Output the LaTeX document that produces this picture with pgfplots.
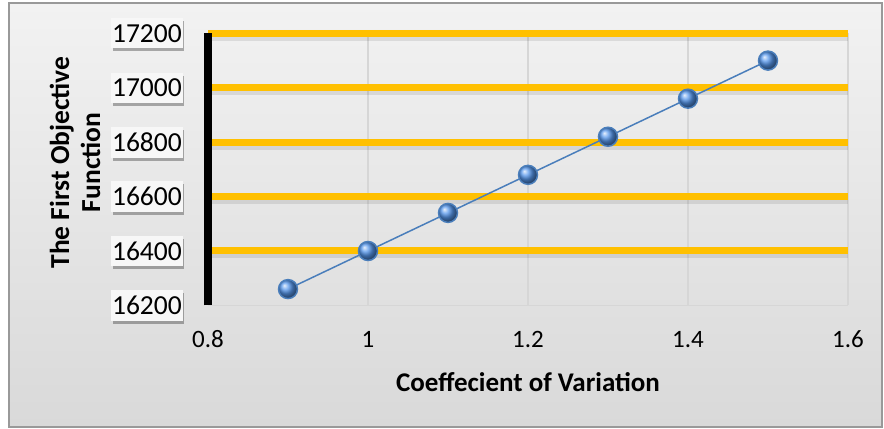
\documentclass[border=0pt]{standalone}
\usepackage{fontspec}
\setmainfont{Carlito}
\usepackage{pgfplots}
\pgfplotsset{compat=1.18}
\usetikzlibrary{shadows}
\definecolor{gold}{HTML}{FFC000}
\definecolor{mblue}{HTML}{4A7EBB}
\definecolor{ballblue}{RGB}{85,150,235}
\definecolor{gridgray}{HTML}{D6D6D6}
\definecolor{bgtop}{HTML}{F2F2F2}
\definecolor{bgbot}{HTML}{D9D9D9}
\begin{document}
\begin{tikzpicture}
\useasboundingbox (0,0) rectangle (884bp,429bp);
\shade[top color=bgtop, bottom color=bgbot] (9bp,2bp) rectangle (882bp,426bp);
\draw[color=gray!80, line width=1.2bp] (9bp,2bp) rectangle (882bp,426bp);
\begin{axis}[
  at={(208bp,123.6bp)}, anchor=south west,
  scale only axis, width=640bp, height=272bp,
  xmin=0.8, xmax=1.6, ymin=16200, ymax=17200,
  xtick={0.8,1.0,1.2,1.4,1.6},
  ytick={16400,16600,16800,17000,17200},
  extra y ticks={16200}, extra y tick style={grid=none},
  scaled y ticks=false, scaled x ticks=false,
  xmajorgrids, ymajorgrids,
  x grid style={gridgray, line width=1.5bp},
  y grid style={gold, line width=7bp,
    preaction={draw=black, opacity=0.09, line width=7bp, transform canvas={yshift=-4bp}}},
  axis x line=bottom, axis y line=left,
  x axis line style={draw=gridgray, line width=1.5bp, -},
  y axis line style={draw=black, line width=7bp, -},
  major tick length=0pt,
  /pgf/number format/.cd, 1000 sep={}, assume math mode=true, /pgfplots/.cd,
  xticklabel style={font=\fontsize{25bp}{30bp}\selectfont, yshift=-22bp},
  yticklabel style={font=\fontsize{27.5bp}{32bp}\selectfont, fill=white!97!black, inner xsep=1bp, inner ysep=6bp, xshift=-25bp,
    drop shadow={shadow xshift=1.5bp, shadow yshift=-3bp, opacity=0.3, fill=black}},
  xlabel={Coeffecient of Variation},
  ylabel={The First Objective\\Function},
  every axis x label/.style={at={(axis description cs:0.5,0)}, anchor=center, yshift=-77bp,
    font=\fontsize{27bp}{31bp}\selectfont\bfseries},
  every axis y label/.style={at={(axis description cs:0,0.5)}, xshift=-133bp, yshift=7bp, anchor=center, rotate=90, align=center,
    font=\fontsize{27.5bp}{31bp}\selectfont\bfseries},
  clip=false,
]
\addplot[color=mblue, line width=1.5bp, mark=ball, mark size=9.5bp, mark options={ball color=ballblue}]
  coordinates {(0.9,16260) (1.0,16400) (1.1,16540) (1.2,16680) (1.3,16820) (1.4,16960) (1.5,17100)};
\end{axis}
\end{tikzpicture}
\end{document}
